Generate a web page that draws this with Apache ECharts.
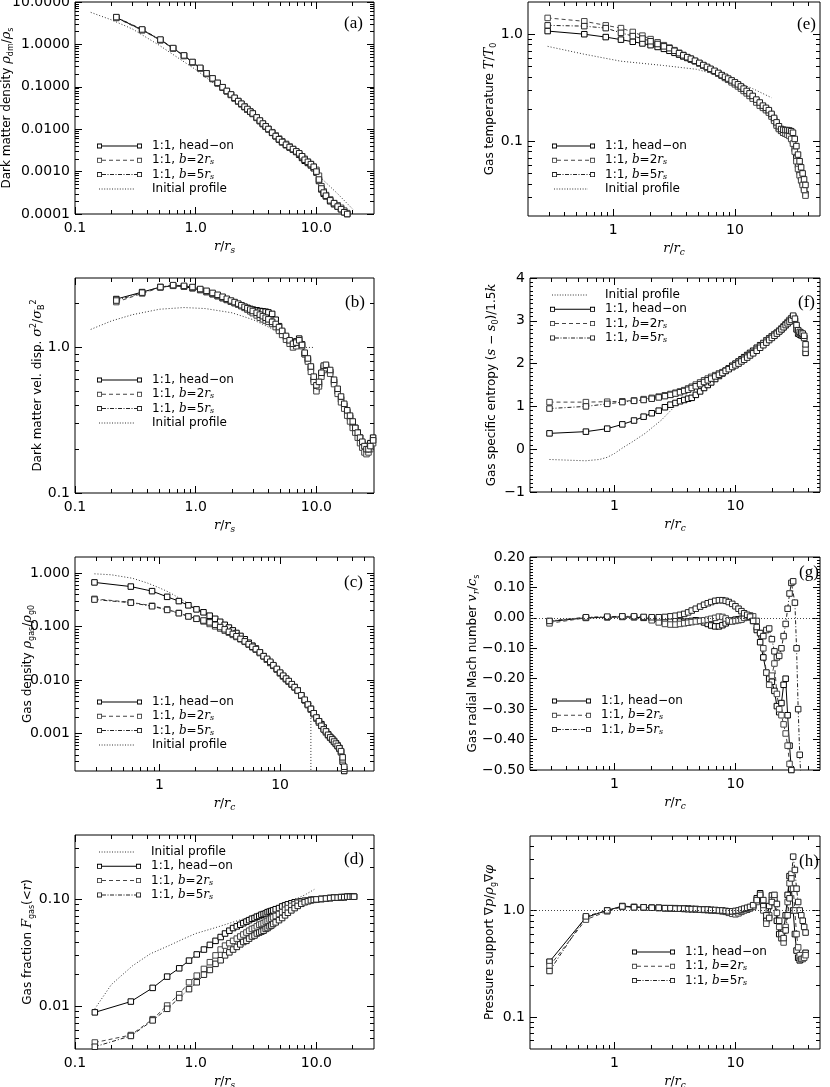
<!DOCTYPE html>
<html>
<head>
<meta charset="utf-8">
<title>Merger radial profiles</title>
<script src="https://cdn.jsdelivr.net/npm/echarts@6.0.0/dist/echarts.min.js"></script>
<style>
  html, body { margin: 0; padding: 0; background: #fff; }
  #chart { width: 830px; height: 1087px; }
</style>
</head>
<body>
<div id="chart"></div>
<script>
// radial bins, r/r_s (panels a, b)
var rS = [0.22, 0.36, 0.51, 0.65, 0.80, 0.94, 1.09, 1.23, 1.38, 1.52, 1.67, 1.81, 1.96, 2.10, 2.25, 2.39, 2.54, 2.68, 2.83, 2.97,
  3.2, 3.4, 3.6, 3.8, 4.0, 4.3, 4.6, 4.9, 5.2, 5.6, 6.0, 6.4, 6.8, 7.2, 7.6, 8.0, 8.5, 9.0, 9.5, 10,
  10.5, 11, 11.5, 12, 13, 14, 15, 16, 17, 18, 19, 20, 21, 22, 23, 24, 25, 26, 27, 28, 29.5];
// bins for the cumulative gas fraction (panel d)
var rD = [0.146, 0.29, 0.44, 0.58, 0.73, 0.88, 1.02, 1.17, 1.31, 1.46, 1.61, 1.75, 1.90, 2.04, 2.19, 2.34, 2.48, 2.63, 2.77, 2.92,
  3.07, 3.21, 3.36, 3.5, 3.65, 3.8, 3.94, 4.09, 4.23, 4.38, 4.6, 4.9, 5.2, 5.5, 5.8, 6.2, 6.6, 7.0, 7.5, 8,
  8.5, 9, 9.5, 10, 11, 12, 13, 14, 15, 16, 17, 18, 19, 20, 20.5];
// radial bins, r/r_c (panels c, e, f, g, h)
var rC = [0.29, 0.58, 0.87, 1.16, 1.45, 1.74, 2.03, 2.32, 2.61, 2.9, 3.19, 3.48, 3.77, 4.06, 4.35, 4.7, 5.1, 5.5, 5.9, 6.3,
  6.8, 7.3, 7.8, 8.3, 8.8, 9.4, 10, 10.6, 11.2, 11.8, 12.5, 13.2, 14, 15, 16, 17, 18, 19, 20, 21,
  22, 23, 24, 25, 26, 27, 28, 29, 30, 31, 32, 33, 34, 35, 36, 37, 38];

// (a) dark matter density
var aHead = [4.3, 2.2, 1.27, 0.81, 0.54, 0.38, 0.275, 0.205, 0.155, 0.122, 0.097, 0.079, 0.065, 0.054, 0.046, 0.039, 0.034, 0.029, 0.026, 0.023,
  0.0185, 0.0155, 0.0132, 0.0114, 0.0099, 0.0082, 0.0068, 0.0057, 0.0049, 0.0042, 0.0037, 0.0033, 0.0029, 0.0025, 0.0021, 0.0018, 0.0016, 0.0014, 0.0012, 0.00095,
  0.0006, 0.00038, 0.0003, 0.00026, 0.0002, 0.00017, 0.00015, 0.00013, 0.00011, 0.0001, 0.00009];
var aB2 = [4.2, 2.15, 1.25, 0.8, 0.53, 0.375, 0.27, 0.2, 0.152, 0.12, 0.095, 0.078, 0.064, 0.053, 0.045, 0.039, 0.033, 0.029, 0.026, 0.023,
  0.0188, 0.0158, 0.0135, 0.0117, 0.0102, 0.0085, 0.0071, 0.006, 0.0052, 0.0045, 0.0039, 0.0034, 0.003, 0.0026, 0.0023, 0.002, 0.0017, 0.0015, 0.0013, 0.0011,
  0.0008, 0.00045, 0.00034, 0.00028, 0.00022, 0.00018, 0.00016, 0.00014, 0.00012, 0.000105, 0.000095];
var aB5 = [4.4, 2.25, 1.3, 0.82, 0.55, 0.385, 0.28, 0.208, 0.158, 0.124, 0.098, 0.08, 0.066, 0.055, 0.046, 0.04, 0.034, 0.03, 0.026, 0.0235,
  0.019, 0.016, 0.0136, 0.0117, 0.0101, 0.0083, 0.0069, 0.0058, 0.005, 0.0043, 0.0038, 0.0034, 0.003, 0.0027, 0.0023, 0.0019, 0.0017, 0.0015, 0.0013, 0.001,
  0.00065, 0.0004, 0.00032, 0.00027, 0.00021, 0.00018, 0.00015, 0.00013, 0.00011, 0.0001, 0.00009];
var aInitR = [0.135, 0.2, 0.3, 0.5, 0.7, 1.0, 1.5, 2, 3, 4, 5, 7, 10, 15, 20];
var aInitY = [5.7, 3.8, 2.3, 0.95, 0.5, 0.255, 0.105, 0.058, 0.024, 0.0115, 0.0063, 0.0025, 0.0009, 0.0003, 0.00013];

// (b) dark matter velocity dispersion
var bHead = [2.15, 2.4, 2.6, 2.65, 2.62, 2.55, 2.48, 2.4, 2.32, 2.25, 2.18, 2.12, 2.06, 2.02, 1.98, 1.94, 1.9, 1.87, 1.84, 1.82,
  1.8, 1.78, 1.77, 1.76, 1.74, 1.7, 1.55, 1.4, 1.28, 1.18, 1.1, 1.05, 1.1, 1.15, 1.05, 0.9, 0.82, 0.72, 0.6, 0.52,
  0.56, 0.66, 0.73, 0.74, 0.68, 0.58, 0.5, 0.44, 0.4, 0.36, 0.33, 0.3, 0.28, 0.26, 0.24, 0.22, 0.21, 0.2, 0.21, 0.22, 0.24];
var bB2 = [2.05, 2.35, 2.58, 2.66, 2.63, 2.57, 2.5, 2.42, 2.34, 2.27, 2.2, 2.13, 2.07, 2.02, 1.97, 1.92, 1.87, 1.82, 1.77, 1.72,
  1.66, 1.6, 1.56, 1.53, 1.5, 1.45, 1.38, 1.3, 1.22, 1.13, 1.06, 1.0, 1.02, 1.08, 1.02, 0.9, 0.8, 0.68, 0.58, 0.5,
  0.54, 0.63, 0.7, 0.72, 0.66, 0.56, 0.48, 0.42, 0.38, 0.34, 0.31, 0.28, 0.26, 0.24, 0.22, 0.205, 0.19, 0.185, 0.19, 0.2, 0.22];
var bB5 = [2.1, 2.38, 2.6, 2.68, 2.65, 2.6, 2.52, 2.45, 2.37, 2.3, 2.23, 2.16, 2.1, 2.05, 2.0, 1.95, 1.9, 1.86, 1.82, 1.78,
  1.73, 1.68, 1.64, 1.6, 1.56, 1.5, 1.45, 1.38, 1.3, 1.2, 1.12, 1.06, 1.08, 1.12, 1.04, 0.92, 0.84, 0.74, 0.63, 0.55,
  0.58, 0.67, 0.75, 0.76, 0.7, 0.6, 0.52, 0.46, 0.41, 0.37, 0.34, 0.31, 0.28, 0.26, 0.24, 0.225, 0.21, 0.2, 0.2, 0.21, 0.23];
var bInitR = [0.135, 0.2, 0.3, 0.5, 0.8, 1.2, 2, 3, 4.4, 6, 7, 9.5];
var bInitY = [1.33, 1.52, 1.68, 1.83, 1.88, 1.85, 1.73, 1.55, 1.33, 1.1, 1.0, 1.0];

// (c) gas density
var cHead = [0.67, 0.56, 0.46, 0.36, 0.30, 0.25, 0.21, 0.185, 0.16, 0.14, 0.123, 0.108, 0.096, 0.085, 0.076, 0.067, 0.058, 0.05, 0.044, 0.039,
  0.033, 0.028, 0.024, 0.021, 0.0185, 0.0158, 0.0135, 0.0118, 0.0105, 0.0094, 0.0083, 0.0074, 0.0064, 0.0052, 0.0042, 0.0035, 0.0029, 0.0024, 0.002, 0.0017,
  0.0015, 0.0013, 0.0011, 0.00097, 0.00087, 0.0008, 0.00073, 0.00066, 0.0006, 0.00054, 0.00045, 0.0003, 0.0002];
var cB2 = [0.33, 0.285, 0.245, 0.21, 0.18, 0.156, 0.14, 0.125, 0.112, 0.101, 0.092, 0.084, 0.077, 0.07, 0.064, 0.058, 0.052, 0.046, 0.041, 0.037,
  0.032, 0.028, 0.024, 0.021, 0.0185, 0.0158, 0.0135, 0.0118, 0.0104, 0.0093, 0.0082, 0.0073, 0.0063, 0.0051, 0.0042, 0.0034, 0.0028, 0.0023, 0.0019, 0.0016,
  0.0014, 0.0012, 0.00105, 0.00093, 0.00084, 0.00077, 0.0007, 0.00064, 0.00058, 0.00052, 0.00045, 0.00033, 0.00022];
var cB5 = [0.32, 0.28, 0.24, 0.205, 0.178, 0.155, 0.14, 0.13, 0.12, 0.108, 0.098, 0.089, 0.08, 0.073, 0.066, 0.059, 0.053, 0.047, 0.042, 0.038,
  0.033, 0.028, 0.025, 0.022, 0.019, 0.0162, 0.0138, 0.0121, 0.0107, 0.0096, 0.0084, 0.0074, 0.0064, 0.0052, 0.0043, 0.0035, 0.0029, 0.0024, 0.002, 0.0017,
  0.0014, 0.0012, 0.0011, 0.00095, 0.00085, 0.00078, 0.00071, 0.00065, 0.00059, 0.00053, 0.00047, 0.00036, 0.00024];
var cInitR = [0.29, 0.4, 0.6, 0.8, 1.0, 1.2, 1.5, 2, 3, 4, 6, 10, 14, 18, 18];
var cInitY = [0.97, 0.93, 0.8, 0.65, 0.53, 0.44, 0.33, 0.22, 0.12, 0.075, 0.038, 0.013, 0.0065, 0.0037, 0.0001];

// (d) gas fraction inside r
var dHead = [0.0088, 0.0111, 0.0149, 0.019, 0.0227, 0.0268, 0.0306, 0.034, 0.0376, 0.041, 0.0445, 0.048, 0.051, 0.054, 0.056, 0.058, 0.06, 0.062, 0.064, 0.066,
  0.067, 0.069, 0.07, 0.072, 0.073, 0.074, 0.076, 0.077, 0.078, 0.079, 0.081, 0.083, 0.086, 0.088, 0.09, 0.092, 0.094, 0.095, 0.096, 0.097,
  0.098, 0.099, 0.1, 0.1, 0.101, 0.102, 0.103, 0.104, 0.104, 0.105, 0.105, 0.106, 0.106, 0.106, 0.106];
var dB2 = [0.0046, 0.0054, 0.0076, 0.0102, 0.013, 0.0168, 0.0194, 0.0224, 0.0259, 0.03, 0.034, 0.037, 0.039, 0.041, 0.043, 0.045, 0.047, 0.049, 0.051, 0.053,
  0.054, 0.056, 0.058, 0.059, 0.06, 0.062, 0.063, 0.065, 0.066, 0.068, 0.07, 0.073, 0.076, 0.08, 0.083, 0.087, 0.09, 0.093, 0.095, 0.097,
  0.098, 0.099, 0.1, 0.1, 0.101, 0.102, 0.103, 0.104, 0.104, 0.105, 0.105, 0.106, 0.106, 0.106, 0.106];
var dB5 = [0.0042, 0.0053, 0.0074, 0.0095, 0.012, 0.0145, 0.0168, 0.0198, 0.0219, 0.025, 0.027, 0.03, 0.032, 0.034, 0.036, 0.038, 0.04, 0.041, 0.043, 0.045,
  0.046, 0.048, 0.049, 0.05, 0.051, 0.053, 0.054, 0.056, 0.057, 0.059, 0.061, 0.064, 0.067, 0.071, 0.075, 0.079, 0.083, 0.087, 0.091, 0.094,
  0.096, 0.098, 0.099, 0.1, 0.101, 0.102, 0.103, 0.104, 0.104, 0.105, 0.105, 0.106, 0.106, 0.106, 0.106];
var dInitR = [0.146, 0.2, 0.3, 0.42, 0.6, 0.8, 1.0, 1.5, 2, 3, 4, 5, 6, 8, 9.6];
var dInitY = [0.0095, 0.016, 0.024, 0.031, 0.037, 0.043, 0.048, 0.055, 0.061, 0.07, 0.078, 0.087, 0.095, 0.11, 0.124];

// (e) gas temperature
var eHead = [1.07, 1.0, 0.94, 0.89, 0.85, 0.82, 0.79, 0.76, 0.73, 0.7, 0.67, 0.645, 0.62, 0.6, 0.58, 0.56, 0.535, 0.51, 0.49, 0.47,
  0.45, 0.43, 0.41, 0.395, 0.38, 0.365, 0.35, 0.335, 0.32, 0.305, 0.29, 0.275, 0.26, 0.24, 0.225, 0.21, 0.2, 0.19, 0.175, 0.16,
  0.145, 0.132, 0.125, 0.12, 0.118, 0.117, 0.115, 0.11, 0.1, 0.085, 0.07, 0.06, 0.052, 0.046, 0.041, 0.036, 0.032];
var eB2 = [1.42, 1.32, 1.21, 1.14, 1.05, 0.97, 0.9, 0.84, 0.79, 0.75, 0.71, 0.67, 0.64, 0.61, 0.59, 0.56, 0.535, 0.51, 0.49, 0.47,
  0.45, 0.43, 0.41, 0.39, 0.375, 0.355, 0.34, 0.325, 0.31, 0.295, 0.28, 0.265, 0.25, 0.23, 0.215, 0.205, 0.195, 0.185, 0.17, 0.155,
  0.14, 0.13, 0.125, 0.12, 0.118, 0.115, 0.112, 0.105, 0.095, 0.08, 0.065, 0.055, 0.048, 0.043, 0.039, 0.035, 0.031];
var eB5 = [1.21, 1.19, 1.14, 1.03, 0.96, 0.91, 0.86, 0.81, 0.77, 0.74, 0.7, 0.665, 0.635, 0.61, 0.59, 0.565, 0.54, 0.515, 0.495, 0.475,
  0.455, 0.435, 0.415, 0.4, 0.385, 0.37, 0.355, 0.34, 0.325, 0.31, 0.295, 0.28, 0.265, 0.245, 0.23, 0.215, 0.205, 0.195, 0.18, 0.165,
  0.15, 0.138, 0.13, 0.128, 0.127, 0.127, 0.126, 0.124, 0.12, 0.105, 0.09, 0.075, 0.065, 0.057, 0.05, 0.044, 0.039];
var eInitR = [0.29, 0.58, 1.15, 2.6, 4.84, 7, 9.6, 14, 20];
var eInitY = [0.77, 0.65, 0.56, 0.51, 0.47, 0.42, 0.37, 0.31, 0.255];

// (f) gas specific entropy
var fHead = [0.37, 0.41, 0.48, 0.58, 0.67, 0.76, 0.84, 0.9, 0.98, 1.04, 1.08, 1.12, 1.15, 1.18, 1.2, 1.27, 1.35, 1.43, 1.5, 1.56,
  1.64, 1.71, 1.77, 1.83, 1.89, 1.95, 2.0, 2.05, 2.1, 2.15, 2.2, 2.25, 2.3, 2.37, 2.43, 2.48, 2.54, 2.59, 2.64, 2.68,
  2.72, 2.76, 2.8, 2.85, 2.9, 2.95, 3.0, 3.05, 3.1, 3.0, 2.8, 2.7, 2.68, 2.66, 2.65, 2.6, 2.25];
var fB2 = [1.1, 1.1, 1.11, 1.12, 1.14, 1.17, 1.2, 1.23, 1.26, 1.29, 1.32, 1.35, 1.38, 1.42, 1.46, 1.51, 1.56, 1.61, 1.65, 1.69,
  1.73, 1.77, 1.8, 1.84, 1.88, 1.92, 1.97, 2.02, 2.07, 2.12, 2.17, 2.22, 2.27, 2.34, 2.41, 2.47, 2.53, 2.58, 2.63, 2.68,
  2.72, 2.77, 2.82, 2.87, 2.92, 2.97, 3.02, 3.06, 3.08, 3.0, 2.85, 2.75, 2.72, 2.7, 2.68, 2.6, 2.35];
var fB5 = [0.95, 1.0, 1.06, 1.1, 1.13, 1.15, 1.18, 1.21, 1.24, 1.27, 1.3, 1.33, 1.36, 1.39, 1.43, 1.47, 1.52, 1.57, 1.61, 1.65,
  1.7, 1.74, 1.78, 1.83, 1.87, 1.92, 1.96, 2.0, 2.05, 2.09, 2.14, 2.19, 2.24, 2.3, 2.37, 2.43, 2.49, 2.55, 2.6, 2.65,
  2.7, 2.75, 2.8, 2.85, 2.9, 2.94, 2.98, 3.02, 3.12, 3.05, 2.9, 2.78, 2.74, 2.72, 2.7, 2.65, 2.45];
var fInitR = [0.29, 0.45, 0.58, 0.75, 0.87, 1.0, 1.15, 1.4, 1.79, 2.44, 3.33, 4.5];
var fInitY = [-0.24, -0.26, -0.27, -0.24, -0.19, -0.1, 0.02, 0.17, 0.37, 0.68, 1.07, 1.22];

// (g) gas radial Mach number
var gHead = [-0.012, 0.0, 0.002, 0.003, 0.002, 0.0, -0.002, -0.004, -0.006, -0.008, -0.01, -0.012, -0.013, -0.012, -0.01, -0.008, -0.01, -0.015, -0.02, -0.025,
  -0.028, -0.028, -0.024, -0.018, -0.012, -0.008, -0.006, -0.005, -0.003, 0.0, 0.003, 0.002, -0.01, -0.04, -0.08, -0.13, -0.18, -0.2, -0.21, -0.24,
  -0.29, -0.31, -0.28, -0.22, -0.2, -0.32, -0.42, -0.5, -0.56];
var gB2 = [-0.018, 0.0, 0.002, 0.004, 0.003, 0.002, -0.008, -0.015, -0.02, -0.022, -0.022, -0.02, -0.018, -0.016, -0.014, -0.012, -0.01, -0.008, -0.006, -0.003,
  0.0, 0.004, 0.003, -0.002, -0.008, -0.012, -0.01, -0.008, -0.006, 0.0, 0.005, 0.008, 0.005, -0.01, -0.05, -0.1, -0.18, -0.22, -0.19, -0.15,
  -0.25, -0.3, -0.32, -0.35, -0.38, -0.42, -0.48, -0.52];
var gB5 = [-0.01, 0.002, 0.004, 0.005, 0.005, 0.003, 0.002, 0.002, 0.003, 0.005, 0.007, 0.01, 0.013, 0.018, 0.024, 0.03, 0.037, 0.043, 0.048, 0.052,
  0.056, 0.058, 0.058, 0.056, 0.052, 0.046, 0.038, 0.03, 0.022, 0.015, 0.01, 0.004, -0.01, -0.03, -0.05, -0.06, -0.04, -0.035, -0.07, -0.11,
  -0.13, -0.125, -0.1, -0.06, -0.02, 0.03, 0.08, 0.115, 0.12, 0.05, -0.1, -0.3, -0.45, -0.55];

// (h) pressure support
var hHead = [0.33, 0.86, 1.0, 1.1, 1.08, 1.07, 1.06, 1.06, 1.05, 1.05, 1.05, 1.04, 1.04, 1.04, 1.03, 1.03, 1.02, 1.02, 1.01, 1.01,
  1.0, 1.0, 0.99, 0.98, 0.97, 0.96, 0.95, 0.97, 1.0, 1.01, 1.02, 1.05, 1.1, 1.3, 1.45, 1.1, 0.8, 1.1, 1.38, 1.2,
  0.8, 0.6, 0.55, 0.65, 0.9, 1.4, 2.1, 1.6, 1.0, 0.6, 0.42, 0.36, 0.34, 0.35, 0.36, 0.38, 0.4];
var hB2 = [0.3, 0.82, 0.98, 1.08, 1.07, 1.06, 1.06, 1.05, 1.05, 1.04, 1.04, 1.04, 1.03, 1.03, 1.03, 1.02, 1.02, 1.01, 1.01, 1.0,
  1.0, 0.99, 0.98, 0.97, 0.95, 0.93, 0.92, 0.94, 0.97, 1.0, 1.03, 1.05, 1.08, 1.2, 1.35, 1.0, 0.75, 0.9, 1.25, 1.3,
  0.95, 0.7, 0.55, 0.5, 0.7, 1.2, 1.8, 2.2, 1.6, 1.0, 0.6, 0.45, 0.38, 0.35, 0.35, 0.36, 0.38];
var hB5 = [0.27, 0.88, 1.0, 1.09, 1.07, 1.07, 1.06, 1.06, 1.05, 1.05, 1.04, 1.04, 1.04, 1.03, 1.03, 1.03, 1.02, 1.02, 1.02, 1.01,
  1.01, 1.0, 1.0, 0.99, 0.98, 0.98, 0.99, 1.0, 1.02, 1.04, 1.06, 1.08, 1.12, 1.25, 1.4, 1.25, 0.9, 0.85, 1.2, 1.4,
  1.15, 0.8, 0.6, 0.55, 0.65, 0.9, 1.3, 2.0, 3.2, 2.4, 1.6, 1.2, 1.0, 0.9, 0.8, 0.7, 0.62];

// tick labels
var ticksXs = [0.1, 1, 10];
var ticksXc = [1, 10];
var ticksA = [0.0001, 0.001, 0.01, 0.1, 1, 10];
var ticksB = [0.1, 1];
var ticksC = [0.001, 0.01, 0.1, 1];
var ticksD = [0.01, 0.1];
var ticksE = [0.1, 1];
var ticksH = [0.1, 1];

var legendText = {
  head: '1:1, head−on',
  b2: '1:1, {i|b}=2{i|r}{s|s}',
  b5: '1:1, {i|b}=5{i|r}{s|s}',
  init: 'Initial profile'
};

var simColor = { head: '#000', b2: '#444', b5: '#222' };
var simDash = { head: 'solid', b2: [4, 3], b5: [4, 2, 1, 2] };

function fix(n) {
  return function (v) { return v.toFixed(n); };
}
function signed(n) {
  return function (v) {
    if (Math.abs(v) < 1e-9) v = 0;
    var s = Math.abs(v).toFixed(n);
    return v < 0 ? '−' + s : s;
  };
}
function fmtXs(v) { return v.toFixed(1); }
function fmtXc(v) { return String(Math.round(v)); }

var xNameS = '{i|r}/{i|r}{si|s}';
var xNameC = '{i|r}/{i|r}{si|c}';

var panels = [
  { tag: '(a)', tagPos: [344, 15], box: [75, 2, 299, 212], x: { type: 'log', min: 0.1, max: 30, ticks: ticksXs, fmt: fmtXs }, xName: xNameS,
    y: { type: 'log', min: 0.0001, max: 10, ticks: ticksA, fmt: fix(4) }, yName: 'Dark matter density {i|ρ}{sub|dm}/{i|ρ}{sub|s}', yGap: 60,
    r: rS, sims: [aHead, aB2, aB5], init: [aInitR, aInitY], legend: { left: 97, top: 140, order: ['head', 'b2', 'b5', 'init'], w: 50 } },
  { tag: '(b)', tagPos: [345, 294], box: [75, 278, 299, 215], x: { type: 'log', min: 0.1, max: 30, ticks: ticksXs, fmt: fmtXs }, xName: xNameS,
    y: { type: 'log', min: 0.1, max: 3, ticks: ticksB, fmt: fix(1) }, yName: 'Dark matter vel. disp. {i|σ}{sup|2}/{i|σ}{sub|B}{sup|2}', yGap: 29,
    r: rS, sims: [bHead, bB2, bB5], init: [bInitR, bInitY], legend: { left: 97, top: 374, order: ['head', 'b2', 'b5', 'init'], w: 50 } },
  { tag: '(c)', tagPos: [344, 574], box: [75, 557, 299, 214], x: { type: 'log', min: 0.2, max: 60, ticks: ticksXc, fmt: fmtXc }, xName: xNameC,
    y: { type: 'log', min: 0.0002, max: 2, ticks: ticksC, fmt: fix(3) }, yName: 'Gas density {i|ρ}{sub|gas}/{i|ρ}{sub|g0}', yGap: 39,
    r: rC, sims: [cHead, cB2, cB5], init: [cInitR, cInitY], legend: { left: 97, top: 696, order: ['head', 'b2', 'b5', 'init'], w: 50 } },
  { tag: '(d)', tagPos: [344, 851], box: [75, 835, 299, 214], x: { type: 'log', min: 0.1, max: 30, ticks: ticksXs, fmt: fmtXs }, xName: xNameS,
    y: { type: 'log', min: 0.004, max: 0.4, ticks: ticksD, fmt: fix(2) }, yName: 'Gas fraction {i|F}{sub|gas}(<{i|r})', yGap: 39,
    r: rD, sims: [dHead, dB2, dB5], init: [dInitR, dInitY], legend: { left: 97, top: 846, order: ['init', 'head', 'b2', 'b5'], w: 49 } },
  { tag: '(e)', tagPos: [797, 16], box: [528, 2, 292, 214], x: { type: 'log', min: 0.2, max: 50, ticks: ticksXc, fmt: fmtXc }, xName: xNameC,
    y: { type: 'log', min: 0.02, max: 2, ticks: ticksE, fmt: fix(1) }, yName: 'Gas temperature {i|T}/{i|T}{sub|0}', yGap: 30,
    r: rC, sims: [eHead, eB2, eB5], init: [eInitR, eInitY], legend: { left: 552, top: 140, order: ['head', 'b2', 'b5', 'init'], w: 48 } },
  { tag: '(f)', tagPos: [798, 294], box: [530, 278, 290, 214], x: { type: 'log', min: 0.2, max: 50, ticks: ticksXc, fmt: fmtXc }, xName: xNameC,
    y: { type: 'value', min: -1, max: 4, interval: 1, minor: 10, fmt: signed(0) }, yName: 'Gas specific entropy ({i|s} − {i|s}{sub|0})/1.5{i|k}', yGap: 30,
    r: rC, sims: [fHead, fB2, fB5], init: [fInitR, fInitY], legend: { left: 550, top: 289, order: ['init', 'head', 'b2', 'b5'], w: 50 } },
  { tag: '(g)', tagPos: [799, 564], box: [530, 557, 290, 213], x: { type: 'log', min: 0.2, max: 50, ticks: ticksXc, fmt: fmtXc }, xName: xNameC,
    y: { type: 'value', min: -0.5, max: 0.2, interval: 0.1, minor: 10, fmt: signed(2) }, yName: 'Gas radial Mach number {i|v}{si|r}/{i|c}{sub|s}', yGap: 49,
    r: rC, sims: [gHead, gB2, gB5], refLine: 0, legend: { left: 552, top: 695, order: ['head', 'b2', 'b5'], w: 44 } },
  { tag: '(h)', tagPos: [799, 853], box: [530, 836, 290, 213], x: { type: 'log', min: 0.2, max: 50, ticks: ticksXc, fmt: fmtXc }, xName: xNameC,
    y: { type: 'log', min: 0.05, max: 5, ticks: ticksH, fmt: fix(1) }, yName: 'Pressure support ∇{i|p}/{i|ρ}{sub|g}∇{i|φ}', yGap: 32,
    r: rC, sims: [hHead, hB2, hB5], refLine: 1, legend: { left: 632, top: 946, order: ['head', 'b2', 'b5'], w: 48 } }
];

var nameRich = {
  i: { fontFamily: 'DejaVu Serif', fontStyle: 'italic', fontSize: 13, lineHeight: 16, color: '#000' },
  si: { fontFamily: 'DejaVu Serif', fontStyle: 'italic', fontSize: 9, lineHeight: 8, verticalAlign: 'bottom', color: '#000' },
  sub: { fontFamily: 'DejaVu Sans', fontSize: 8, lineHeight: 8, verticalAlign: 'bottom', color: '#000' },
  sup: { fontFamily: 'DejaVu Sans', fontSize: 8, lineHeight: 8, verticalAlign: 'top', color: '#000' }
};

// 把 r 与 y 配成点对
function pairs(rs, ys) {
  var out = [];
  for (var i = 0; i < rs.length && i < ys.length; i++) {
    if (ys[i] != null) out.push([rs[i], ys[i]]);
  }
  return out;
}

// 对数轴的次刻度 2..9
function minorLog(min, max) {
  var out = [];
  for (var e = -5; e <= 2; e++) {
    for (var k = 2; k <= 9; k++) {
      var v = +(k * Math.pow(10, e)).toPrecision(3);
      if (v > min * 1.0001 && v < max * 0.9999) out.push(v);
    }
  }
  return out;
}

// legend icon: squares at both ends joined by a solid / dashed / dash-dot line
function iconPath(kind, w) {
  var h = 5, t = 0.9, right = w - 10;
  var d = 'M0 0h0.05v0.05h-0.05Z M' + (w - 0.05) + ' ' + (h - 0.05) + 'h0.05v0.05h-0.05Z';
  function box(x) {
    return ' M' + x + ' 0h5v5h-5Z M' + (x + t) + ' ' + t + 'v' + (5 - 2 * t) + 'h' + (5 - 2 * t) + 'v' + (-(5 - 2 * t)) + 'Z';
  }
  function bar(x0, x1, y, th) {
    return ' M' + x0 + ' ' + y + 'h' + (x1 - x0) + 'v' + th + 'h' + (x0 - x1) + 'Z';
  }
  var pattern = kind === 'head' ? null : kind === 'b2' ? [4, 3] : kind === 'b5' ? [4, 1.5, 1, 1.5] : [1, 1.6];
  var x0 = kind === 'init' ? 2 : 5, x1 = kind === 'init' ? w - 12 : right;
  if (!pattern) {
    d += bar(x0, x1, 2, 1);
  } else {
    var x = x0, j = 0;
    while (x < x1) {
      var len = pattern[j % pattern.length];
      if (j % 2 === 0) d += bar(x, Math.min(x + len, x1), 2, 1);
      x += len;
      j++;
    }
  }
  if (kind !== 'init') d += box(0) + box(right);
  return 'path://' + d;
}

function buildAxes(p, gi, dim) {
  var a = dim === 'x' ? p.x : p.y;
  var sides = dim === 'x' ? ['bottom', 'top'] : ['left', 'right'];
  var axes = [];
  sides.forEach(function (side, s) {
    var main = {
      gridIndex: gi, type: a.type, position: side, min: a.min, max: a.max,
      axisLine: { show: false, onZero: false }, splitLine: { show: false },
      axisTick: { show: true, inside: true, length: 7, lineStyle: { color: '#000', width: 1 } },
      axisLabel: {
        show: s === 0, formatter: a.fmt, margin: dim === 'x' ? 7 : 5,
        fontFamily: 'DejaVu Sans', fontSize: 14, color: '#000'
      },
      silent: true
    };
    if (a.type === 'log') {
      main.axisTick.customValues = a.ticks;
      main.axisLabel.customValues = a.ticks;
    } else {
      main.interval = a.interval;
      main.minorTick = { show: true, splitNumber: a.minor, length: 3, lineStyle: { color: '#000', width: 1 } };
    }
    if (s === 0) {
      main.name = dim === 'x' ? p.xName : p.yName;
      main.nameLocation = 'middle';
      main.nameGap = dim === 'x' ? 25 : p.yGap;
      main.nameMoveOverlap = false;
      if (dim === 'y') main.nameRotate = 90;
      main.nameTextStyle = { fontFamily: 'DejaVu Sans', fontSize: 12, lineHeight: 16, color: '#000', rich: nameRich };
    }
    axes.push(main);
    axes.push({
      gridIndex: gi, type: a.type, position: side, min: a.min, max: a.max,
      axisLine: { show: false, onZero: false }, splitLine: { show: false }, axisLabel: { show: false },
      axisTick: a.type === 'log'
        ? { show: true, inside: true, length: 4, customValues: minorLog(a.min, a.max), lineStyle: { color: '#000', width: 1 } }
        : { show: false },
      silent: true
    });
  });
  return axes;
}

function initChart() {
  var chart = echarts.init(document.getElementById('chart'), null, { renderer: 'canvas' });
  var grids = [], xAxes = [], yAxes = [], series = [], legends = [], titles = [];
  var keys = ['head', 'b2', 'b5'];

  panels.forEach(function (p, gi) {
    grids.push({
      left: p.box[0], top: p.box[1], width: p.box[2], height: p.box[3],
      show: true, borderColor: '#000', borderWidth: 1, backgroundColor: 'transparent',
      outerBoundsMode: 'none', containLabel: false
    });
    xAxes = xAxes.concat(buildAxes(p, gi, 'x'));
    yAxes = yAxes.concat(buildAxes(p, gi, 'y'));
    var ax = gi * 4;

    if (p.init) {
      series.push({
        type: 'line', name: 'init', xAxisIndex: ax, yAxisIndex: ax,
        data: pairs(p.init[0], p.init[1]), symbol: 'none', silent: true,
        lineStyle: { color: '#333', width: 1, type: [1, 2] }
      });
    }
    keys.forEach(function (k, si) {
      var s = {
        type: 'line', name: k, xAxisIndex: ax, yAxisIndex: ax,
        data: pairs(p.r, p.sims[si]), symbol: 'rect', symbolSize: 5.5, silent: true,
        itemStyle: { color: '#fff', borderColor: simColor[k], borderWidth: 1 },
        lineStyle: { color: simColor[k], width: 1, type: simDash[k] }
      };
      if (p.refLine != null && si === 0) {
        s.markLine = {
          silent: true, symbol: 'none', label: { show: false },
          lineStyle: { color: '#444', width: 1, type: [1, 2] },
          data: [{ yAxis: p.refLine }]
        };
      }
      series.push(s);
    });

    legends.push({
      left: p.legend.left, top: p.legend.top, orient: 'vertical', padding: 0,
      itemWidth: p.legend.w, itemHeight: 5, itemGap: 2.3, selectedMode: false,
      data: p.legend.order.map(function (k) {
        return { name: k, icon: iconPath(k, p.legend.w), itemStyle: { color: k === 'init' ? '#333' : simColor[k], borderWidth: 0 } };
      }),
      formatter: function (name) { return legendText[name]; },
      textStyle: {
        fontFamily: 'DejaVu Sans', fontSize: 12, lineHeight: 12, color: '#000',
        rich: {
          i: { fontFamily: 'DejaVu Serif', fontStyle: 'italic', fontSize: 12, lineHeight: 12, color: '#000' },
          s: { fontFamily: 'DejaVu Serif', fontStyle: 'italic', fontSize: 8, lineHeight: 6, verticalAlign: 'bottom', color: '#000' }
        }
      }
    });

    titles.push({
      text: p.tag, left: p.tagPos[0], top: p.tagPos[1], padding: 0,
      textStyle: { fontFamily: 'Liberation Serif', fontSize: 17, fontWeight: 'normal', color: '#000' }
    });
  });

  chart.setOption({
    backgroundColor: '#fff',
    animation: false,
    title: titles,
    legend: legends,
    grid: grids,
    xAxis: xAxes,
    yAxis: yAxes,
    series: series
  });
}

initChart();
</script>
</body>
</html>
